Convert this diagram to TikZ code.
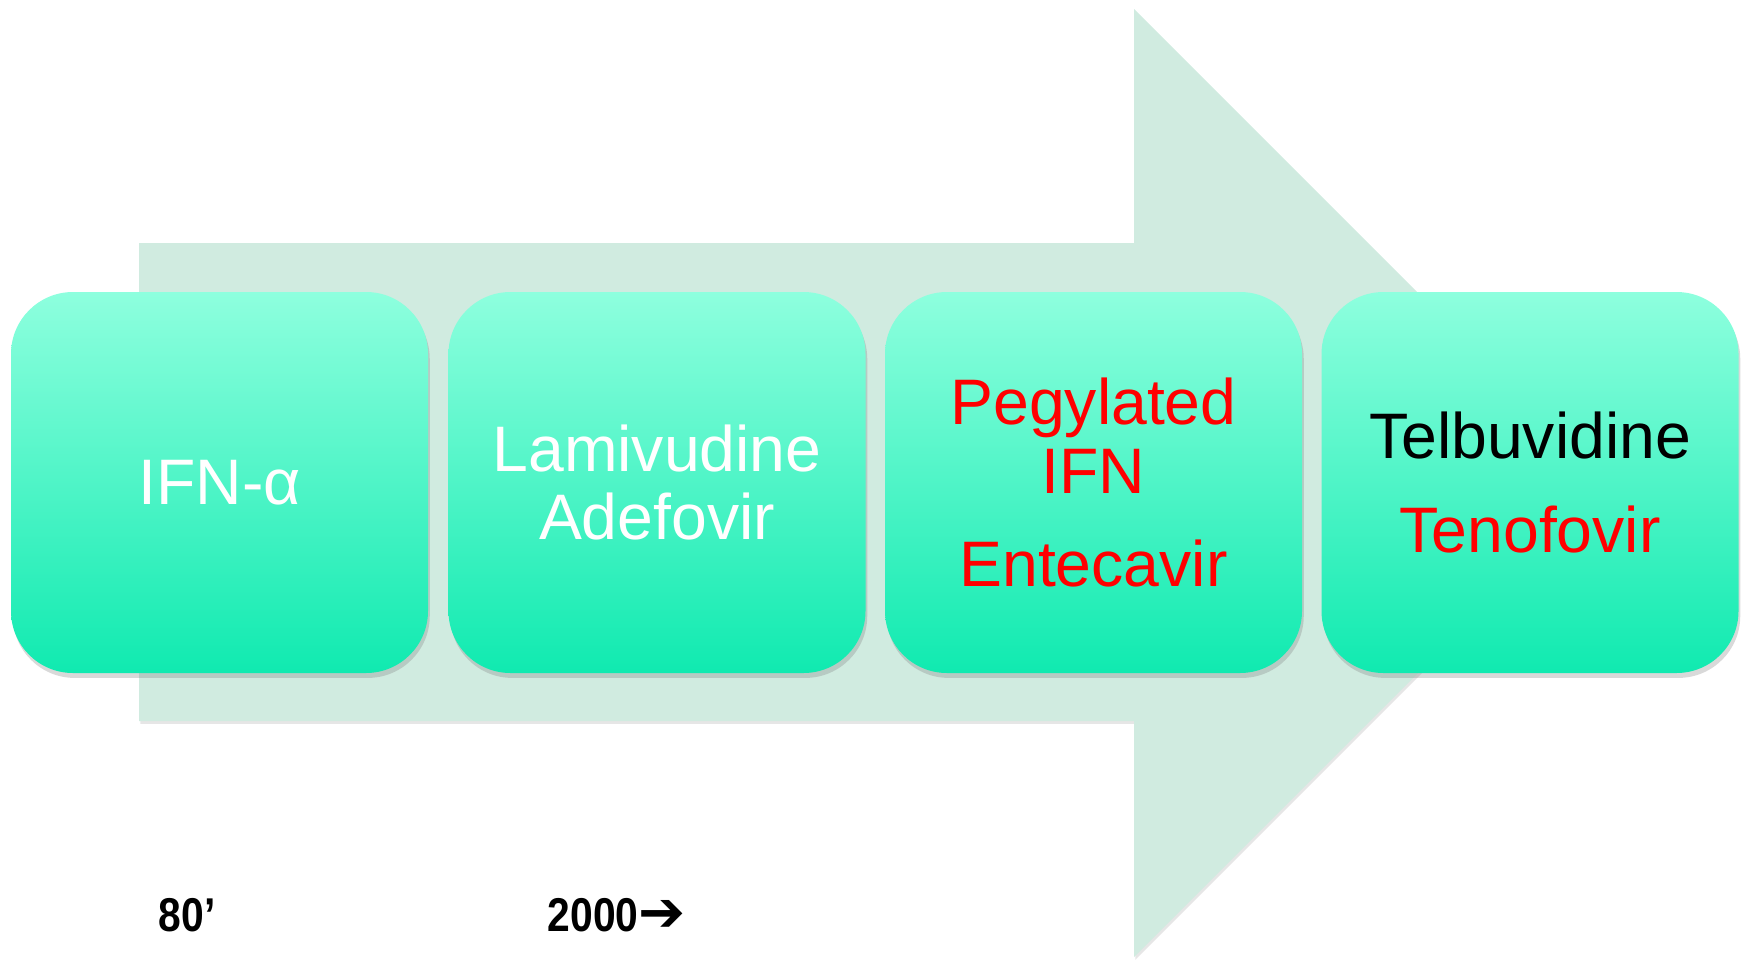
\documentclass[tikz,border=0pt]{standalone}
\usepackage{xcolor}
\usepackage{fontspec}
\setmainfont{Liberation Sans}
\newfontfamily\narrowbold[FakeStretch=0.86]{Liberation Sans}
\newfontfamily\dejavu{DejaVu Sans}
\usepackage{tikz}
\usetikzlibrary{shadows}
\definecolor{arrowgreen}{RGB}{208,235,224}
\definecolor{boxtop}{RGB}{142,255,222}
\definecolor{boxbottom}{RGB}{16,234,176}

\begin{document}
\begin{tikzpicture}[main/.style = {rectangle, rounded corners=0.62cm, minimum width=4.17cm, minimum height=3.81cm, top color=boxtop, bottom color=boxbottom, drop shadow={shadow xshift=0.5pt, shadow yshift=-1.4pt, opacity=0.3}, align=center, text=white, font=\fontsize{18.3}{19.5}\selectfont}, year/.style = {anchor=base west, inner sep=0pt, font=\narrowbold\fontsize{13.5}{14}\selectfont\bfseries}]
							\useasboundingbox (0,0) rectangle (17.49,9.6);
							\path[fill=arrowgreen, drop shadow={shadow xshift=0.4pt, shadow yshift=-0.8pt, opacity=0.2}] (1.39,2.39) -- (1.39,7.17) -- (11.34,7.17) -- (11.34,9.51) -- (16.08,4.77) -- (11.34,0.03) -- (11.34,2.39) -- cycle;
							\node[main] (1) at (2.195,4.775) {IFN-α};
							\node[main] (2) at (6.57,4.775) {Lamivudine\\Adefovir};
							\node[main, text=red] (3) at (10.935,4.775) {Pegylated\\IFN\\[7pt]Entecavir};
							\node[main, text=black] (4) at (15.30,4.775) {Telbuvidine\\[7pt]\textcolor{red}{Tenofovir}};
							\node[year] (80) at (1.58,0.29) {80’};
							\node[year] (2000) at (5.47,0.29) {2000{\dejavu\bfseries\fontsize{16}{16}\selectfont ➔}};
							\end{tikzpicture}
\end{document}
